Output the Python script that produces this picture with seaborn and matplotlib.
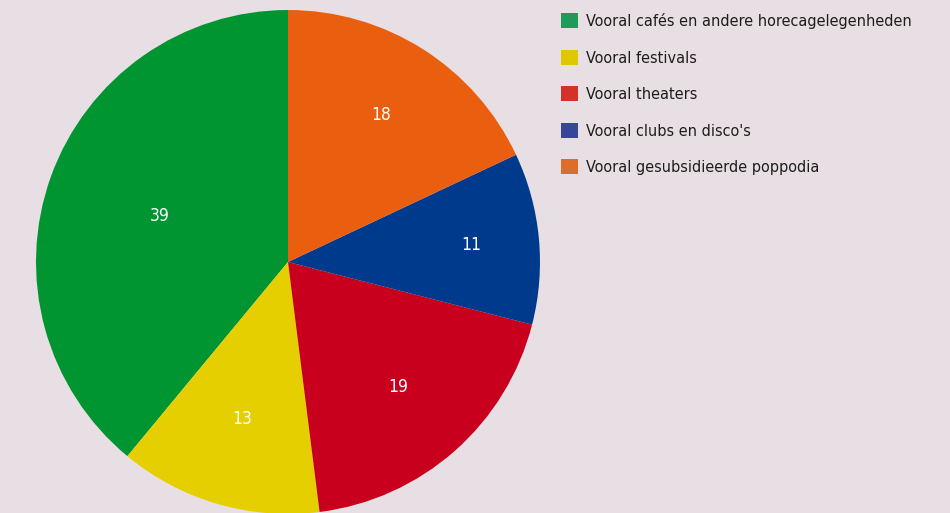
import matplotlib
matplotlib.use("Agg")
import matplotlib.pyplot as plt
import seaborn as sns
import numpy as np
from matplotlib.patches import Patch
from matplotlib import font_manager
from matplotlib.font_manager import FontProperties

sns.set_theme(style="white")

# pick an upright condensed face if one is installed
entries = font_manager.fontManager.ttflist
def upright(e):
    return e.style == "normal" and e.weight in (400, 500, "normal", "regular", "medium")
choice = None
for e in entries:
    if e.name == "Liberation Sans Narrow" and upright(e):
        choice = e.fname
        break
if choice is None:
    for fam in ["Noto Sans", "Open Sans", "Roboto", "DejaVu Sans"]:
        for st in ["extra-condensed", "condensed", "semi-condensed"]:
            for e in entries:
                if e.name == fam and str(e.stretch) == st and upright(e):
                    choice = e.fname
                    break
            if choice:
                break
        if choice:
            break
fp_base = FontProperties(fname=choice) if choice else FontProperties(family="DejaVu Sans")
plt.rcParams['font.family'] = ['DejaVu Sans']

categories = ["Vooral cafés en andere horecagelegenheden", "Vooral festivals",
              "Vooral theaters", "Vooral clubs en disco's", "Vooral gesubsidieerde poppodia"]
values = [39, 13, 19, 11, 18]
slice_colors = ["#009530", "#E6CF00", "#C8001E", "#003A8C", "#E95E0F"]
legend_colors = ["#1E9A5A", "#E0C700", "#D3312A", "#35469B", "#DC6E2C"]
label_radius = [0.54, 0.65, 0.66, 0.73, 0.69]

bg = "#E8DFE4"
W, H = 950, 513
fig = plt.figure(figsize=(9.5, 5.13), dpi=100, facecolor=bg)
ax = fig.add_axes([0.0379, -0.00195, 0.5305, 0.9825])
ax.set_facecolor(bg)
wedges, _ = ax.pie(values, colors=slice_colors, startangle=90, counterclock=True,
                   radius=1, wedgeprops=dict(linewidth=0))

renderer = fig.canvas.get_renderer()
probe_fp = fp_base.copy()
probe_fp.set_size(20)
t = fig.text(0, 0, categories[0], fontproperties=probe_fp)
wpx = t.get_window_extent(renderer).width
t.remove()
leg_size = 20 * 324.0 / wpx
leg_fp = fp_base.copy()
leg_fp.set_size(leg_size)
num_fp = fp_base.copy()
num_fp.set_size(12.5)

for w, v, r in zip(wedges, values, label_radius):
    ang = np.deg2rad((w.theta1 + w.theta2) / 2)
    ax.text(r * np.cos(ang), r * np.sin(ang), str(v), ha="center", va="center",
            color="white", fontproperties=num_fp)
ax.set_xlim(-1, 1)
ax.set_ylim(-1, 1)
ax.set_aspect("equal")
ax.axis("off")

handles = [Patch(facecolor=c, edgecolor="none") for c in legend_colors]
row_px = 36.6
first_center = 20.5
fs_px = leg_size * 100 / 72

def make_legend(ls, top):
    lg = fig.legend(handles, categories, loc="upper left",
                    bbox_to_anchor=(561 / W, 1 - top / H),
                    frameon=False, prop=leg_fp, handlelength=17 / fs_px,
                    handleheight=17 / fs_px, handletextpad=8 / fs_px,
                    labelspacing=ls, borderaxespad=0, borderpad=0)
    for txt in lg.get_texts():
        txt.set_color("#1D1D1B")
    return lg

ls, top = 0.6, 0.0
leg = make_legend(ls, top)
fig.canvas.draw()
for _ in range(3):
    ys = [H - p.get_window_extent(renderer).y0 - p.get_window_extent(renderer).height / 2
          for p in leg.get_patches()]
    pitch = (ys[-1] - ys[0]) / (len(ys) - 1)
    ls = ls + (row_px - pitch) / fs_px
    top = top + (first_center - ys[0])
    leg.remove()
    leg = make_legend(ls, top)
    fig.canvas.draw()

fig.savefig("out.png", dpi=100, facecolor=bg)
